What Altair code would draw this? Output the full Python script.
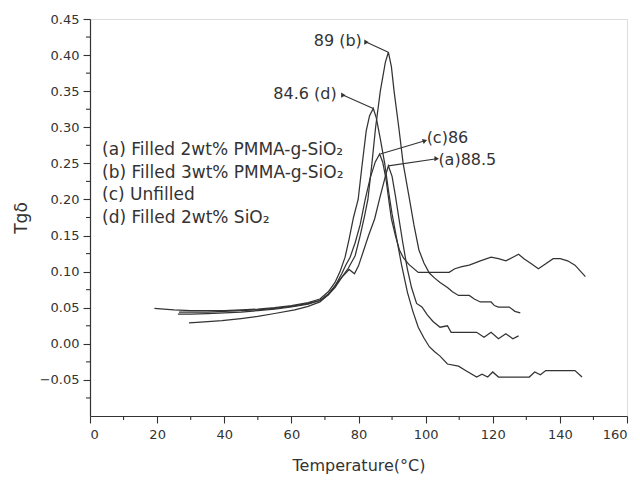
import math
import altair as alt
import pandas as pd

FONT = "DejaVu Sans"
INK = "#333333"

# ---- curves (Temperature °C, Tg delta) ----
a_x = [29.5, 33, 39.3, 45, 50, 55, 61, 65, 68.5, 71, 72.9, 75, 77.2, 78.8, 80, 81.5, 83, 84.8, 86.5, 88, 88.9,
       90, 91, 92, 93.2, 94.5, 95.8, 97.3, 98.9, 100.5, 102.2, 104.3, 106.5, 107.6, 110.8, 115.2, 117.4, 119.5,
       121.7, 123.9, 126, 127.7]
a_y = [0.029, 0.030, 0.032, 0.035, 0.038, 0.042, 0.047, 0.052, 0.058, 0.068, 0.080, 0.092, 0.103, 0.097, 0.108,
       0.129, 0.150, 0.173, 0.205, 0.232, 0.2465, 0.232, 0.205, 0.175, 0.140, 0.105, 0.078, 0.056, 0.051, 0.040,
       0.031, 0.023, 0.025, 0.016, 0.016, 0.016, 0.009, 0.016, 0.007, 0.014, 0.007, 0.011]

b_x = [26.2, 30, 35, 40, 45, 50, 55, 60, 65, 68.5, 71, 73, 75, 77, 79, 80.5, 81.8, 82.8, 84, 85.1, 86.5, 88, 88.9,
       89.8, 90.6, 92, 93.3, 95.2, 96.5, 98, 99.5, 101.1, 102.7, 104.3, 106.5, 108, 109.8, 113, 114.5, 116.3,
       119.5, 120.5, 121.7, 124.9, 125.8, 126.6, 128.2]
b_y = [0.041, 0.041, 0.042, 0.043, 0.044, 0.046, 0.048, 0.051, 0.055, 0.060, 0.068, 0.078, 0.092, 0.105, 0.122,
       0.150, 0.177, 0.200, 0.250, 0.300, 0.350, 0.390, 0.404, 0.384, 0.350, 0.300, 0.250, 0.200, 0.165, 0.130,
       0.112, 0.098, 0.091, 0.085, 0.078, 0.072, 0.067, 0.067, 0.062, 0.058, 0.058, 0.053, 0.051, 0.051, 0.048,
       0.045, 0.043]

c_x = [26.5, 30, 35, 40, 45, 50, 55, 60, 65, 68.5, 71, 73, 75, 76.3, 77.5, 79, 80.5, 82, 83.5, 85, 86.3, 87.2,
       88.2, 89, 89.8, 91, 92.2, 93.4, 95, 97.8, 100, 103, 107, 108.7, 110.8, 113, 116.3, 119.5, 121.7, 123.9,
       126, 127.7, 129.3, 131.5, 133.6, 135.8, 138, 140.1, 142.3, 144.5, 147.6]
c_y = [0.044, 0.044, 0.044, 0.045, 0.046, 0.047, 0.049, 0.052, 0.056, 0.060, 0.069, 0.080, 0.097, 0.110, 0.120,
       0.140, 0.165, 0.200, 0.230, 0.252, 0.263, 0.252, 0.228, 0.200, 0.173, 0.150, 0.130, 0.119, 0.110, 0.099,
       0.099, 0.099, 0.099, 0.104, 0.107, 0.109, 0.115, 0.120, 0.118, 0.115, 0.120, 0.124, 0.118, 0.111, 0.104,
       0.111, 0.118, 0.118, 0.115, 0.109, 0.093]

d_x = [19.2, 22, 25, 30, 35, 40, 45, 50, 55, 60, 65, 68.5, 71, 73, 74.5, 76, 77.2, 78.5, 79.9, 81, 82.3, 83.3,
       84.4, 85.3, 86.5, 87.8, 89.0, 90.0, 91.2, 92.8, 94.6, 96.2, 97.8, 99.5, 101.1, 102.7, 104.3, 106.5, 109.8,
       111.9, 115.2, 116.8, 118.5, 120, 121.7, 126, 130.9, 132.5, 134.2, 135.8, 140.1, 144.5, 146.6]
d_y = [0.049, 0.048, 0.047, 0.046, 0.046, 0.046, 0.047, 0.048, 0.050, 0.053, 0.057, 0.062, 0.072, 0.085, 0.100,
       0.120, 0.145, 0.175, 0.200, 0.245, 0.295, 0.316, 0.326, 0.313, 0.284, 0.250, 0.210, 0.180, 0.150, 0.110,
       0.071, 0.045, 0.023, 0.008, -0.004, -0.011, -0.017, -0.028, -0.031, -0.037, -0.046, -0.042, -0.046,
       -0.039, -0.046, -0.046, -0.046, -0.039, -0.043, -0.037, -0.037, -0.037, -0.046]

series = {"a": (a_x, a_y), "b": (b_x, b_y), "c": (c_x, c_y), "d": (d_x, d_y)}

# ---- legend text (in-plot) ----
legend_text = ["(a) Filled 2wt% PMMA-g-SiO\u2082", "(b) Filled 3wt% PMMA-g-SiO\u2082",
               "(c) Unfilled", "(d) Filled 2wt% SiO\u2082"]
legend_x = [3.6, 3.6, 3.6, 3.6]
legend_y = [0.268, 0.237, 0.206, 0.175]

# ---- peak annotations ----
ann_text = ["89 (b)", "84.6 (d)", "(c)86", "(a)88.5"]
ann_x = [81.0, 73.5, 100.3, 103.8]
ann_y = [0.420, 0.346, 0.2854, 0.2545]
ann_align = ["right", "right", "left", "left"]
arrow_from_x = [88.9, 84.4, 86.5, 88.9]
arrow_from_y = [0.404, 0.326, 0.263, 0.2465]
arrow_to_x = [82.4, 75.5, 99.8, 103.3]
arrow_to_y = [0.4178, 0.3444, 0.2814, 0.2565]

# ---- axes ----
x_major = list(range(0, 161, 20))
x_minor = list(range(10, 160, 20))
y_major = [round(-0.05 + 0.05 * i, 2) for i in range(11)]
y_minor = [round(-0.075 + 0.05 * i, 3) for i in range(11)]

W, H = 537, 397
XDOM = [0, 160]
YDOM = [-0.10, 0.45]
px_x = W / (XDOM[1] - XDOM[0])
px_y = H / (YDOM[1] - YDOM[0])

rows = []
for name, (xs, ys) in series.items():
    for xv, yv in zip(xs, ys):
        rows.append({"series": name, "x": xv, "y": yv})
curves = pd.DataFrame(rows)

leg_df = pd.DataFrame({"x": legend_x, "y": legend_y, "t": legend_text})
ann_df = pd.DataFrame({"x": ann_x, "y": ann_y, "t": ann_text, "al": ann_align})
arr_df = pd.DataFrame({"x": arrow_from_x, "y": arrow_from_y, "x2": arrow_to_x, "y2": arrow_to_y})
arr_df["ang"] = [
    (math.degrees(math.atan2(-(y2 - y1) * px_y, (x2 - x1) * px_x)) + 360) % 360
    for x1, y1, x2, y2 in zip(arrow_from_x, arrow_from_y, arrow_to_x, arrow_to_y)
]
xminor_df = pd.DataFrame({"x": x_minor})
yminor_df = pd.DataFrame({"y": y_minor})

xs_ = alt.Scale(domain=XDOM, nice=False, zero=False)
ys_ = alt.Scale(domain=YDOM, nice=False, zero=False)

xaxis = alt.Axis(
    values=x_major, tickSize=7, grid=False, labelFont=FONT, labelFontSize=13, labelColor=INK,
    labelPadding=5, labelOverlap=False, format="d", title="Temperature(°C)", titleFont=FONT,
    titleFontSize=16, titleFontWeight="normal", titleColor=INK, titlePadding=16,
    domainColor=INK, tickColor=INK, domainWidth=1.2, tickWidth=1.1,
)
yaxis = alt.Axis(
    values=y_major, format=".2f", tickSize=7, grid=False, labelFont=FONT, labelFontSize=13,
    labelColor=INK, labelPadding=4, labelOverlap=False, title="Tgδ", titleFont=FONT, titleFontSize=17,
    titleFontWeight="normal", titleColor=INK, titlePadding=9,
    domainColor=INK, tickColor=INK, domainWidth=1.2, tickWidth=1.1,
)

X = alt.X("x:Q", scale=xs_, axis=xaxis)
Y = alt.Y("y:Q", scale=ys_, axis=yaxis)

lines = alt.Chart(curves).mark_line(color="#333333", strokeWidth=1.25).encode(
    x=X, y=Y, detail="series:N", order="x:Q")

arrows = alt.Chart(arr_df).mark_rule(color="#333333", strokeWidth=1.1).encode(
    x=X, y=Y, x2="x2:Q", y2="y2:Q")

heads = alt.Chart(arr_df).mark_point(shape="triangle-right", filled=True, color="#333333",
                                     size=28, opacity=1).encode(
    x=alt.X("x2:Q", scale=xs_, axis=xaxis), y=alt.Y("y2:Q", scale=ys_, axis=yaxis), angle="ang:Q")

xminor = alt.Chart(xminor_df).mark_rule(color=INK, strokeWidth=1.1).encode(
    x=X, y=alt.value(H), y2=alt.value(H + 4))
yminor = alt.Chart(yminor_df).mark_rule(color=INK, strokeWidth=1.1).encode(
    y=Y, x=alt.value(0), x2=alt.value(-4))

legend = alt.Chart(leg_df).mark_text(align="left", baseline="middle", font=FONT, fontSize=17,
                                     color=INK).encode(x=X, y=Y, text="t:N")

ann_r = alt.Chart(ann_df[ann_df.al == "right"]).mark_text(
    align="right", baseline="middle", font=FONT, fontSize=16, color=INK).encode(x=X, y=Y, text="t:N")
ann_l = alt.Chart(ann_df[ann_df.al == "left"]).mark_text(
    align="left", baseline="middle", font=FONT, fontSize=16, color=INK).encode(x=X, y=Y, text="t:N")

chart = alt.layer(lines, arrows, heads, xminor, yminor, legend, ann_r, ann_l).properties(
    width=W, height=H,
    autosize=alt.AutoSizeParams(type="none"),
    padding={"left": 82, "top": 11, "right": 5, "bottom": 62},
).configure_view(stroke=INK, strokeWidth=1.2).configure(background="white")

chart.save("out.html", embed_options={"renderer": "svg", "actions": False})
